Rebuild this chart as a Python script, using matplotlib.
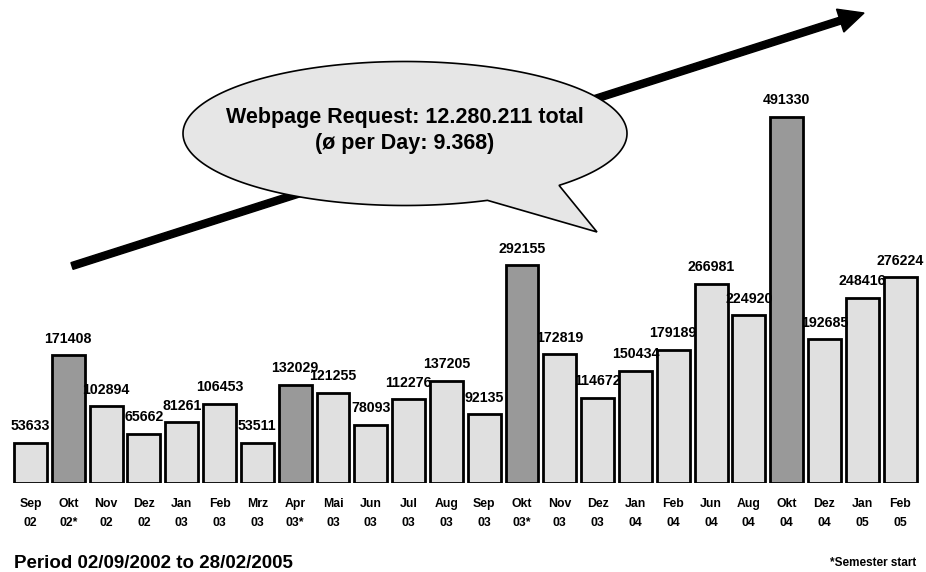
import matplotlib
matplotlib.use("Agg")
import matplotlib.pyplot as plt
from matplotlib.patches import Polygon, FancyArrow
import numpy as np

plt.rcParams['font.family'] = ['Liberation Sans', 'DejaVu Sans']
plt.rcParams['font.weight'] = 'bold'

months = ["Sep", "Okt", "Nov", "Dez", "Jan", "Feb", "Mrz", "Apr", "Mai", "Jun",
          "Jul", "Aug", "Sep", "Okt", "Nov", "Dez", "Jan", "Feb", "Jun", "Aug",
          "Okt", "Dez", "Jan", "Feb"]
years = ["02", "02*", "02", "02", "03", "03", "03", "03*", "03", "03",
         "03", "03", "03", "03*", "03", "03", "04", "04", "04", "04",
         "04", "04", "05", "05"]
requests = [53633, 171408, 102894, 65662, 81261, 106453, 53511, 132029, 121255, 78093,
            112276, 137205, 92135, 292155, 172819, 114672, 150434, 179189, 266981, 224920,
            491330, 192685, 248416, 276224]
semester_start = [False, True, False, False, False, False, False, True, False, False,
                  False, False, False, True, False, False, False, False, False, False,
                  True, False, False, False]

W, H = 926, 572
fig = plt.figure(figsize=(W / 100, H / 100), dpi=100)

# overlay in pixel coordinates for the trend arrow and the speech bubble
ov = fig.add_axes([0, 0, 1, 1])
ov.set_xlim(0, W)
ov.set_ylim(H, 0)
ov.axis('off')

# trend arrow
x0, y0, x1, y1 = 72, 266, 864, 13
ov.add_patch(FancyArrow(x0, y0, x1 - x0, y1 - y0, width=7, head_width=24,
                        head_length=25, length_includes_head=True,
                        color='black', zorder=1))

# speech bubble: ellipse with a tail pointing down-right
cx, cy, a, b = 405, 133.5, 222, 72
t_start = np.arctan2((185 - cy) / b, (558 - cx) / a)
t_end = np.arctan2((200 - cy) / b, (487 - cx) / a)
ts = np.linspace(t_start, t_end - 2 * np.pi if t_end > t_start else t_end, 300)
pts = np.column_stack([cx + a * np.cos(ts), cy + b * np.sin(ts)])
pts = np.vstack([pts, [[597, 232]]])
ov.add_patch(Polygon(pts, closed=True, facecolor='#e6e6e6', edgecolor='black',
                     linewidth=1.2, zorder=2))
ov.text(cx, 118, "Webpage Request: 12.280.211 total", ha='center', va='center',
        fontsize=15.5, fontweight='bold', zorder=3)
ov.text(cx, 143, "(ø per Day: 9.368)", ha='center', va='center',
        fontsize=15.5, fontweight='bold', zorder=3)

# bar chart
base_px = 483
top_val_px = 117
ymax = max(requests) * base_px / (base_px - top_val_px)
left_px = 11.6
right_px = 919.0
ax = fig.add_axes([left_px / W, (H - base_px) / H, (right_px - left_px) / W, base_px / H])
ax.patch.set_alpha(0)
x = np.arange(len(requests))
colors = ['#999999' if s else '#e0e0e0' for s in semester_start]
ax.bar(x, requests, width=0.87, color=colors, edgecolor='black', linewidth=2, zorder=2)
for xi, v in zip(x, requests):
    ax.annotate(f"{v}", (xi, v), xytext=(0, 7), textcoords='offset points',
                ha='center', va='bottom', fontsize=10.2, fontweight='bold', zorder=3)
ax.set_xlim(-0.5, len(requests) - 0.5)
ax.set_ylim(0, ymax)
ax.set_xticks(x)
ax.set_xticklabels([f"{m}\n{y}" for m, y in zip(months, years)], fontsize=8.8,
                   fontweight='bold', linespacing=1.75)
ax.tick_params(axis='x', length=0, pad=11)
ax.set_yticks([])
for s in ax.spines.values():
    s.set_visible(False)

fig.text(14 / W, 1 - 563 / H, "Period 02/09/2002 to 28/02/2005", ha='left', va='center',
         fontsize=13.5, fontweight='bold')
fig.text(916 / W, 1 - 563 / H, "*Semester start", ha='right', va='center',
         fontsize=8.5, fontweight='bold')

fig.savefig("out.png", dpi=100)
